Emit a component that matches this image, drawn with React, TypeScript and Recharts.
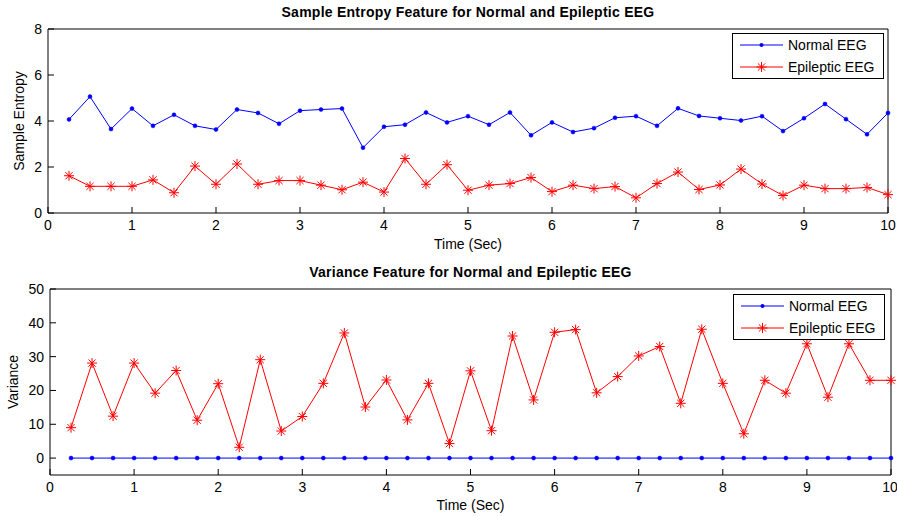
import React from 'react';
import { LineChart, Line, XAxis, YAxis, Legend } from 'recharts';

const timeSec = [
  0.25, 0.5, 0.75, 1, 1.25, 1.5, 1.75, 2, 2.25, 2.5, 2.75, 3, 3.25, 3.5, 3.75, 4, 4.25, 4.5, 4.75, 5,
  5.25, 5.5, 5.75, 6, 6.25, 6.5, 6.75, 7, 7.25, 7.5, 7.75, 8, 8.25, 8.5, 8.75, 9, 9.25, 9.5, 9.75, 10,
];

const normalEntropy = [
  4.07, 5.06, 3.65, 4.54, 3.79, 4.27, 3.79, 3.63, 4.5, 4.35, 3.88, 4.45, 4.5, 4.54, 2.84, 3.75, 3.84, 4.37, 3.94, 4.21,
  3.84, 4.37, 3.38, 3.94, 3.52, 3.69, 4.14, 4.21, 3.79, 4.55, 4.22, 4.12, 4.02, 4.21, 3.56, 4.12, 4.74, 4.08, 3.42, 4.35,
];

const epilepticEntropy = [
  1.62, 1.16, 1.16, 1.16, 1.44, 0.88, 2.04, 1.25, 2.13, 1.25, 1.41, 1.41, 1.21, 1.01, 1.34, 0.91, 2.37, 1.25, 2.1, 0.99,
  1.21, 1.28, 1.54, 0.93, 1.21, 1.06, 1.15, 0.66, 1.28, 1.78, 1.02, 1.22, 1.91, 1.26, 0.76, 1.21, 1.06, 1.06, 1.11, 0.8,
];

const normalVariance = [
  0, 0, 0, 0, 0, 0, 0, 0, 0, 0, 0, 0, 0, 0, 0, 0, 0, 0, 0, 0,
  0, 0, 0, 0, 0, 0, 0, 0, 0, 0, 0, 0, 0, 0, 0, 0, 0, 0, 0, 0,
];

const epilepticVariance = [
  9, 28.1, 12.4, 28.1, 19.2, 25.9, 11.2, 22, 3.2, 29.1, 8, 12.3, 22.1, 37, 15.1, 23.1, 11.3, 22.1, 4.3, 25.8,
  8.1, 36.1, 17.2, 37.2, 38, 19.3, 24.1, 30.2, 33, 16.2, 38.1, 22.1, 7.2, 23, 19.2, 33.8, 18, 33.8, 23, 23,
];

const timeTicks = [0, 1, 2, 3, 4, 5, 6, 7, 8, 9, 10];
const entropyTicks = [0, 2, 4, 6, 8];
const varianceTicks = [0, 10, 20, 30, 40, 50];

const FONT = '"Liberation Sans", Arial, Helvetica, sans-serif';
const BLUE = '#0000ff';
const RED = '#ff0000';

const entropyRows = timeSec.map((t, i) => ({ t, normal: normalEntropy[i], epileptic: epilepticEntropy[i] }));
const varianceRows = timeSec.map((t, i) => ({ t, normal: normalVariance[i], epileptic: epilepticVariance[i] }));

const drawStar = (cx: number, cy: number, key?: string) => {
  const r = 5;
  const d = 3.6;
  return (
    <g key={key} stroke={RED} strokeWidth={1}>
      <line x1={cx - r} y1={cy} x2={cx + r} y2={cy} />
      <line x1={cx} y1={cy - r} x2={cx} y2={cy + r} />
      <line x1={cx - d} y1={cy - d} x2={cx + d} y2={cy + d} />
      <line x1={cx - d} y1={cy + d} x2={cx + d} y2={cy - d} />
    </g>
  );
};

const StarDot = (props: any) => {
  const { cx, cy, index } = props;
  if (cx == null || cy == null) return <g key={`star-${index}`} />;
  return drawStar(cx, cy, `star-${index}`);
};

const LegendBox = () => (
  <div
    style={{
      width: 152,
      height: 46,
      border: '1px solid #000',
      background: '#fff',
      boxSizing: 'border-box',
    }}
  >
    <svg width={150} height={44} style={{ display: 'block' }}>
      <line x1={7} y1={11} x2={50} y2={11} stroke={BLUE} strokeWidth={1} />
      <circle cx={28.5} cy={11} r={2} fill={BLUE} />
      <text x={55} y={16} fontFamily={FONT} fontSize={14} fill="#000">
        Normal EEG
      </text>
      <line x1={7} y1={33} x2={50} y2={33} stroke={RED} strokeWidth={1} />
      {drawStar(28.5, 33)}
      <text x={55} y={38} fontFamily={FONT} fontSize={14} fill="#000">
        Epileptic EEG
      </text>
    </svg>
  </div>
);

interface PanelProps {
  data: { t: number; normal: number; epileptic: number }[];
  title: string;
  yLabel: string;
  yDomain: [number, number];
  yTicks: number[];
  top: number;
  height: number;
  marginTop: number;
  marginRight: number;
  yAxisWidth: number;
  xAxisHeight: number;
  xLabelOffset: number;
  yLabelOffset: number;
  legendTop: number;
  legendLeft: number;
}

const tickStyle = { fill: '#000', fontSize: 14, fontFamily: FONT };

const Panel: React.FC<PanelProps> = (p) => (
  <div style={{ position: 'absolute', left: 0, top: p.top }}>
    <LineChart
      width={897}
      height={p.height}
      data={p.data}
      margin={{ top: p.marginTop, right: p.marginRight, bottom: 0, left: 0 }}
    >
      <XAxis
        dataKey="t"
        type="number"
        domain={[0, 10]}
        ticks={timeTicks}
        height={p.xAxisHeight}
        stroke="#000"
        tickSize={-6}
        tickMargin={13}
        tick={tickStyle}
        label={{ value: 'Time (Sec)', position: 'insideBottom', offset: p.xLabelOffset, fill: '#000', fontSize: 14, fontFamily: FONT }}
      />
      {/* top frame edge with inward ticks, carries the title */}
      <XAxis
        xAxisId="top"
        orientation="top"
        type="number"
        domain={[0, 10]}
        ticks={timeTicks}
        height={1}
        stroke="#000"
        tickSize={-6}
        tick={false}
        label={{
          value: p.title,
          position: 'top',
          offset: 11,
          fill: '#000',
          fontSize: 14,
          fontWeight: 'bold',
          fontFamily: FONT,
          style: { letterSpacing: '0.25px' },
        }}
      />
      <YAxis
        type="number"
        domain={p.yDomain}
        ticks={p.yTicks}
        width={p.yAxisWidth}
        stroke="#000"
        tickSize={-6}
        tickMargin={12}
        tick={tickStyle}
        label={{
          value: p.yLabel,
          angle: -90,
          position: 'insideLeft',
          offset: p.yLabelOffset,
          fill: '#000',
          fontSize: 14,
          fontFamily: FONT,
          style: { textAnchor: 'middle' },
        }}
      />
      {/* right frame edge */}
      <YAxis
        yAxisId="right"
        orientation="right"
        type="number"
        domain={p.yDomain}
        ticks={p.yTicks}
        width={1}
        stroke="#000"
        tickSize={-6}
        tick={false}
      />
      <Legend
        layout="horizontal"
        verticalAlign="middle"
        align="center"
        content={<LegendBox />}
        wrapperStyle={{ top: p.legendTop, left: p.legendLeft, width: 152, height: 46 }}
      />
      <Line
        name="Normal EEG"
        dataKey="normal"
        stroke={BLUE}
        strokeWidth={1}
        dot={{ r: 2, fill: BLUE, stroke: BLUE, strokeWidth: 0.5 }}
        activeDot={false}
        isAnimationActive={false}
      />
      <Line
        name="Epileptic EEG"
        dataKey="epileptic"
        stroke={RED}
        strokeWidth={1}
        dot={StarDot}
        activeDot={false}
        isAnimationActive={false}
      />
    </LineChart>
  </div>
);

export default function App() {
  return (
    <div
      style={{
        position: 'absolute',
        left: 0,
        top: 0,
        width: 897,
        height: 516,
        background: '#fff',
        fontFamily: FONT,
      }}
    >
      <Panel
        data={entropyRows}
        title="Sample Entropy Feature for Normal and Epileptic EEG"
        yLabel="Sample Entropy"
        yDomain={[0, 8]}
        yTicks={entropyTicks}
        top={0}
        height={258}
        marginTop={28}
        marginRight={8}
        yAxisWidth={48}
        xAxisHeight={45}
        xLabelOffset={9}
        yLabelOffset={19}
        legendTop={33}
        legendLeft={732}
      />
      <Panel
        data={varianceRows}
        title="Variance Feature for Normal and Epileptic EEG"
        yLabel="Variance"
        yDomain={[-5, 50]}
        yTicks={varianceTicks}
        top={260}
        height={256}
        marginTop={28}
        marginRight={5}
        yAxisWidth={50}
        xAxisHeight={41}
        xLabelOffset={6}
        yLabelOffset={13}
        legendTop={34}
        legendLeft={733}
      />
    </div>
  );
}
